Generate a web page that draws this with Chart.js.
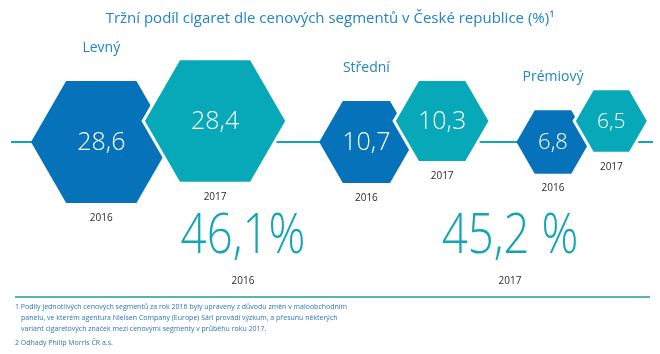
<!DOCTYPE html>
<html><head><meta charset="utf-8">
<script src="https://cdn.jsdelivr.net/npm/chart.js@4/dist/chart.umd.min.js"></script>
<style>html,body{margin:0;padding:0;background:#fff;overflow:hidden}#wrap{width:660px;height:354px;position:relative}</style>
</head><body><div id="wrap"><canvas id="c" width="660" height="354"></canvas></div>
<script>
// ---- data ----
const chartTitle = 'Tržní podíl cigaret dle cenových segmentů v České republice (%)¹';
const segments = ['Levný', 'Střední', 'Prémiový'];
const years = ['2016', '2017'];
const share2016 = [28.6, 10.7, 6.8];
const share2017 = [28.4, 10.3, 6.5];
const totalYears = ['2016', '2017'];
const totalShare = [46.1, 45.2];
const totalSuffix = ['%', ' %'];
const footnotes = [
  '1 Podíly jednotlivých cenových segmentů za rok 2016 byly upraveny z důvodu změn v maloobchodním',
  'panelu, ve kterém agentura Nielsen Company (Europe) Sárl provádí výzkum, a přesunu některých',
  'variant cigaretových značek mezi cenovými segmenty v průběhu roku 2017.',
  '2 Odhady Philip Morris ČR a.s.'
];

// ---- layout / style ----
const C16 = '#0672b9', C17 = '#07a9b9', LINE = '#13a5b5', SEP = '#1f9c8f';
const BLUE_TXT = '#1f86c4', FOOT_TXT = '#2a76b8', DARK = '#2b2b2b';
const FONT = "'Open Sans', 'DejaVu Sans', sans-serif";
const radius = v => 23.5 * Math.log(v) - 8.5;   // hexagon size from share
const START = 31, GAPS = [34, 28], DX = 1.62, DY17 = 21;
const fmt = v => v.toFixed(1).replace('.', ',');

const pts16 = [], pts17 = [];
let cursor = START;
segments.forEach((s, i) => {
  const r16 = radius(share2016[i]), r17 = radius(share2017[i]);
  const x16 = cursor + r16;
  const x17 = x16 + DX * (r16 + r17) / 2;
  pts16.push({x: x16, y: 0, r: r16, v: share2016[i]});
  pts17.push({x: x17, y: DY17, r: r17, v: share2017[i]});
  cursor = x17 + r17 + (GAPS[i] || 0);
});

function hexPath(ctx, x, y, R) {
  ctx.beginPath();
  for (let k = 0; k < 6; k++) {
    const a = k * Math.PI / 3;
    ctx.lineTo(x + R * Math.cos(a), y + R * Math.sin(a));
  }
  ctx.closePath();
}

const hexPlugin = {
  id: 'hex',
  beforeDatasetsDraw(chart) {
    const {ctx, scales: {x, y}} = chart;
    ctx.save();
    ctx.strokeStyle = LINE; ctx.lineWidth = 2;
    ctx.beginPath();
    ctx.moveTo(x.getPixelForValue(11), y.getPixelForValue(0));
    ctx.lineTo(x.getPixelForValue(653), y.getPixelForValue(0));
    ctx.stroke();
    ctx.restore();
  },
  afterDatasetDraw(chart, args) {
    const ctx = chart.ctx;
    const ds = chart.data.datasets[args.index];
    args.meta.data.forEach(el => {
      const R = el.options.radius;
      ctx.save();
      hexPath(ctx, el.x, el.y, R);
      if (ds.hexBorder) { ctx.lineWidth = 6; ctx.strokeStyle = '#fff'; ctx.lineJoin = 'miter'; ctx.stroke(); }
      ctx.fillStyle = ds.hexColor; ctx.fill();
      ctx.restore();
    });
  },
  afterDatasetsDraw(chart) {
    const {ctx, scales: {x, y}} = chart;
    ctx.save();
    ctx.textAlign = 'center'; ctx.textBaseline = 'middle';
    chart.data.datasets.forEach((ds, di) => {
      const meta = chart.getDatasetMeta(di);
      meta.data.forEach((el, i) => {
        const R = el.options.radius;
        const p = ds.data[i];
        ctx.fillStyle = '#fff';
        ctx.font = '300 ' + Math.min(25, Math.round(0.6 * R)) + 'px ' + FONT;
        ctx.fillText(fmt(p.v), el.x, el.y + 1);
        ctx.fillStyle = DARK;
        ctx.font = '10px ' + FONT;
        ctx.fillText(ds.label, el.x, el.y + R * Math.sqrt(3) / 2 + 15);
        if (di === 0) {
          ctx.fillStyle = BLUE_TXT;
          ctx.font = '14px ' + FONT;
          ctx.fillText(segments[i], el.x, el.y - R * Math.sqrt(3) / 2 - 33);
        }
      });
    });
    // totals
    const TX = [243, 510];
    totalShare.forEach((v, i) => {
      const px = x.getPixelForValue(TX[i]), py = y.getPixelForValue(-95);
      ctx.save();
      ctx.translate(px, py);
      ctx.scale(0.83, 1);
      ctx.fillStyle = LINE;
      ctx.font = '300 55px ' + FONT;
      ctx.fillText(fmt(v) + totalSuffix[i], 0, 0);
      ctx.restore();
      ctx.fillStyle = DARK;
      ctx.font = '10px ' + FONT;
      ctx.fillText(totalYears[i], px, y.getPixelForValue(-139));
    });
    // separator
    ctx.strokeStyle = SEP; ctx.lineWidth = 1.5;
    ctx.beginPath();
    ctx.moveTo(15, 297); ctx.lineTo(650, 297); ctx.stroke();
    // footnotes
    ctx.textAlign = 'left';
    ctx.fillStyle = FOOT_TXT;
    ctx.font = '7px ' + FONT;
    const FY = [307, 318, 329, 343];
    footnotes.forEach((t, i) => {
      ctx.fillText(t, (i === 1 || i === 2) ? 21 : 15, FY[i]);
    });
    ctx.restore();
  }
};

new Chart(document.getElementById('c'), {
  type: 'bubble',
  data: {
    datasets: [
      {label: years[0], data: pts16, hexColor: C16, hexBorder: false, order: 2,
       backgroundColor: 'rgba(0,0,0,0)', borderColor: 'rgba(0,0,0,0)', borderWidth: 0},
      {label: years[1], data: pts17, hexColor: C17, hexBorder: true, order: 1,
       backgroundColor: 'rgba(0,0,0,0)', borderColor: 'rgba(0,0,0,0)', borderWidth: 0}
    ]
  },
  options: {
    responsive: false,
    animation: false,
    events: [],
    devicePixelRatio: 1,
    layout: {padding: 0, autoPadding: false},
    clip: false,
    scales: {
      x: {type: 'linear', min: 0, max: 660, display: false},
      y: {type: 'linear', min: -212, max: 114, display: false}
    },
    plugins: {
      legend: {display: false},
      tooltip: {enabled: false},
      title: {display: true, text: chartTitle, color: BLUE_TXT,
              font: {family: FONT, size: 15, weight: 'normal', lineHeight: 1.2},
              padding: {top: 10, bottom: 0}}
    }
  },
  plugins: [hexPlugin]
});
</script></body></html>
